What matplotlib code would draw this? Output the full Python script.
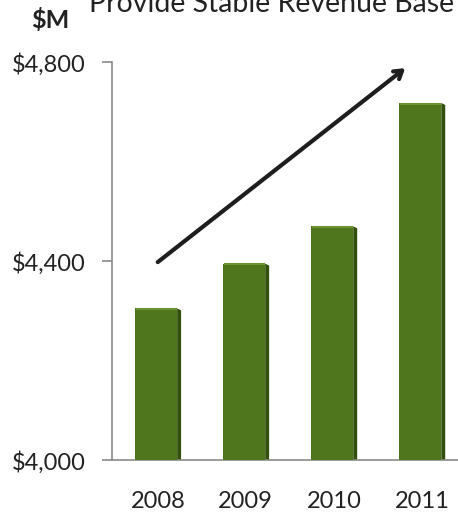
import matplotlib
matplotlib.use("Agg")
import matplotlib.pyplot as plt
from matplotlib.patches import Polygon

years = ["2008", "2009", "2010", "2011"]
revenue = [4305, 4395, 4470, 4718]
y_ticks = [4000, 4400, 4800]
y_tick_labels = ["$4,000", "$4,400", "$4,800"]
title_text = "Provide Stable Revenue Base"
unit_label = "$M"

plt.rcParams['font.family'] = ['Lato', 'DejaVu Sans']

fig = plt.figure(figsize=(4.58, 5.14), dpi=100)
ax = fig.add_axes([0.2445, 0.105, 0.7555, 0.774])

front_col = "#4F761C"
side_col = "#34500D"
top_col = "#6C9232"

xs = list(range(len(years)))
front_w = 0.48
depth = 0.045
for x, v in zip(xs, revenue):
    x0 = x - 0.02 - front_w / 2
    x1 = x0 + front_w
    side = Polygon([(x1, 4000), (x1 + depth, 4000), (x1 + depth, v - 4), (x1, v)],
                   closed=True, facecolor=side_col, edgecolor="none", zorder=2)
    ax.add_patch(side)
ax.bar([x - 0.02 for x in xs], [v - 4000 for v in revenue], bottom=4000, width=front_w,
       color=front_col, edgecolor="none", zorder=3)
for x, v in zip(xs, revenue):
    x0 = x - 0.02 - front_w / 2
    ax.plot([x0 + 0.01, x0 + front_w], [v - 1.5, v - 1.5], color=top_col, lw=1.5,
            zorder=4, solid_capstyle="butt")

ax.set_ylim(4000, 4800)
ax.set_xlim(-0.52, 3.41)
ax.set_yticks(y_ticks)
ax.set_yticklabels(y_tick_labels)
ax.set_xticks(xs)
ax.set_xticklabels(years)

for s in ["top", "right"]:
    ax.spines[s].set_visible(False)
for s in ["left", "bottom"]:
    ax.spines[s].set_color("#8a8a8a")
    ax.spines[s].set_linewidth(1.2)

ax.tick_params(axis="y", length=7, width=1.2, color="#8a8a8a", labelsize=17,
               pad=12, labelcolor="#222222")
ax.tick_params(axis="x", length=0, labelsize=17, pad=22, labelcolor="#222222")

ax.annotate("", xy=(2.81, 4788), xytext=(0.0, 4398),
            arrowprops=dict(arrowstyle="->, head_length=0.55, head_width=0.35",
                            lw=3, color="#1e1e1e", shrinkA=0, shrinkB=0),
            zorder=5, annotation_clip=False)

fig.text(0.593, 0.977, title_text, ha="center", va="baseline", fontsize=20.5,
         color="#222222")
fig.text(0.11, 0.961, unit_label, ha="center", va="center", fontsize=18,
         fontweight="bold", color="#222222")

fig.savefig("out.png", dpi=100)
